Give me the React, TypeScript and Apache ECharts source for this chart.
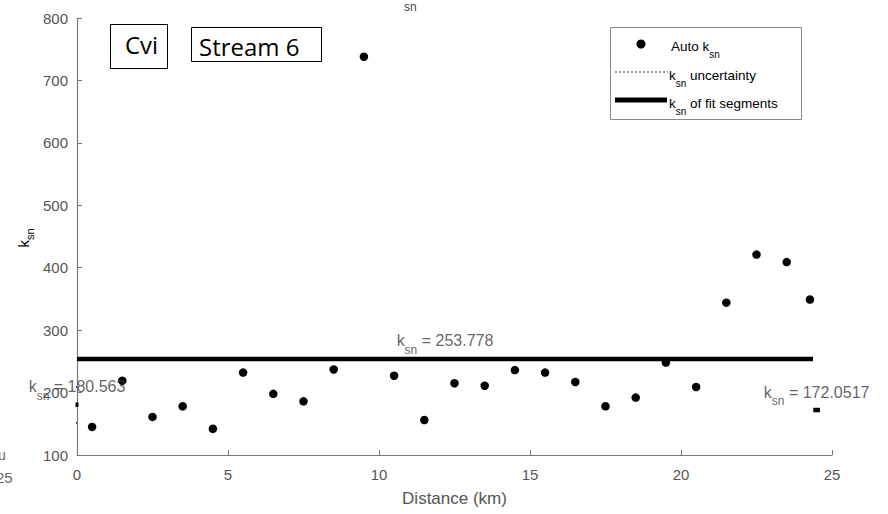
import React, { useEffect, useRef } from "react";
import * as echarts from "echarts";

// Auto k_sn estimates along the stream (distance in km, k_sn value)
const distances = [
  0.5, 1.5, 2.5, 3.5, 4.5, 5.5, 6.5, 7.5, 8.5, 9.5, 10.5, 11.5, 12.5, 13.5,
  14.5, 15.5, 16.5, 17.5, 18.5, 19.5, 20.5, 21.5, 22.5, 23.5, 24.27,
];
const autoKsn = [
  145, 219, 161, 178, 142, 232, 198, 186, 237, 738, 227, 156, 215, 211, 236,
  232, 217, 178, 192, 248, 209, 344, 421, 409, 349,
];

// Fitted segments: start, end and k_sn of each segment
const segStart = [-0.05, 0, 24.38];
const segEnd = [0.05, 24.37, 24.6];
const segKsn = [180.563, 253.778, 172.0517];

// Uncertainty bounds of the first segment
const uncLevels = [151.6, 209.5];

const xTicks = { min: 0, max: 25, interval: 5 };
const yTicks = { min: 100, max: 800, interval: 100 };

const AXIS_GRAY = "#7a7a7a";
const LABEL_GRAY = "#555555";
const SANS = "'Liberation Sans', Arial, sans-serif";

// Rich-text styles for "k" with a lowered "sn" subscript
const subRich = (size: number, subSize: number, lh: number, color: string) => ({
  k: { fontSize: size, lineHeight: lh, fontFamily: SANS, color },
  s: { fontSize: subSize, verticalAlign: "bottom" as const, fontFamily: SANS, color },
  t: { fontSize: size, lineHeight: lh, fontFamily: SANS, color },
});

export default function App() {
  const ref = useRef<HTMLDivElement>(null);

  useEffect(() => {
    if (!ref.current) return;
    const chart = echarts.init(ref.current, undefined, { renderer: "svg" });

    const fitSeries = segKsn.map((k, i) => ({
      type: "line" as const,
      name: "fit" + i,
      data: [
        [segStart[i], k],
        [segEnd[i], k],
      ],
      symbol: "none",
      clip: false,
      lineStyle: { color: "#000", width: 4.5 },
      z: 3,
    }));

    const uncSeries = uncLevels.map((u, i) => ({
      type: "line" as const,
      name: "unc" + i,
      data: [
        [segStart[0], u],
        [segEnd[0], u],
      ],
      symbol: "none",
      clip: false,
      lineStyle: { color: "#222", width: 1.5, type: "dotted" as const },
    }));

    const annotRich = subRich(16, 12, 30, "#3a3a3a");
    const legendRich = subRich(13.5, 10, 26, "#333");

    chart.setOption({
      animation: false,
      backgroundColor: "#ffffff",
      grid: { left: 77, right: 56, top: 18, bottom: 59, containLabel: false, outerBoundsMode: "none" },
      xAxis: {
        type: "value",
        ...xTicks,
        axisLine: { onZero: false, lineStyle: { color: AXIS_GRAY, width: 1.2 } },
        axisTick: { inside: true, length: 5, lineStyle: { color: AXIS_GRAY } },
        axisLabel: { color: LABEL_GRAY, fontSize: 15, margin: 12, fontFamily: SANS },
        splitLine: { show: false },
        name: "Distance (km)",
        nameLocation: "middle",
        nameGap: 35,
        nameTextStyle: { color: LABEL_GRAY, fontSize: 17, fontFamily: SANS },
      },
      yAxis: {
        type: "value",
        ...yTicks,
        axisLine: { show: true, onZero: false, lineStyle: { color: AXIS_GRAY, width: 1.2 } },
        axisTick: { show: true, inside: true, length: 5, lineStyle: { color: AXIS_GRAY } },
        axisLabel: { color: LABEL_GRAY, fontSize: 15, margin: 9, fontFamily: SANS },
        splitLine: { show: false },
      },
      series: [
        ...fitSeries,
        ...uncSeries,
        {
          type: "scatter",
          name: "Auto ksn",
          data: distances.map((d, i) => [d, autoKsn[i]]),
          symbol: "circle",
          symbolSize: 8.5,
          itemStyle: { color: "#000", opacity: 1 },
          z: 4,
        },
        {
          type: "scatter",
          name: "segment labels",
          data: segKsn.map((k, i) => [(segStart[i] + segEnd[i]) / 2, k]),
          symbolSize: 0,
          silent: true,
          clip: false,
          z: 5,
          label: {
            show: true,
            position: "top",
            distance: 3,
            formatter: (p: any) => `{k|k}{s|sn}{t| = ${p.value[1]}}`,
            rich: annotRich,
          },
        },
      ],
      graphic: [
        // Panel tags
        {
          type: "rect",
          shape: { x: 110.5, y: 24.5, width: 57, height: 44 },
          style: { fill: "#fff", stroke: "#000", lineWidth: 1 },
        },
        {
          type: "text",
          x: 125,
          y: 44,
          style: { text: "Cvi", fontSize: 24, fontFamily: "'Open Sans', sans-serif", fill: "#000", verticalAlign: "middle" },
        },
        {
          type: "rect",
          shape: { x: 191.5, y: 27.5, width: 130, height: 34 },
          style: { fill: "#fff", stroke: "#000", lineWidth: 1 },
        },
        {
          type: "text",
          x: 199,
          y: 46,
          style: { text: "Stream 6", fontSize: 24, fontFamily: "'Open Sans', sans-serif", fill: "#000", verticalAlign: "middle" },
        },
        // Legend
        {
          type: "rect",
          shape: { x: 610.5, y: 27.5, width: 191, height: 92 },
          style: { fill: "#fff", stroke: "#8a8a8a", lineWidth: 1 },
        },
        { type: "circle", shape: { cx: 641, cy: 44, r: 4.5 }, style: { fill: "#000" } },
        {
          type: "text",
          x: 671,
          y: 46,
          style: { text: "{t|Auto k}{s|sn}", verticalAlign: "middle", rich: legendRich },
        },
        {
          type: "line",
          shape: { x1: 615, y1: 72, x2: 668, y2: 72 },
          style: { stroke: "#333", lineWidth: 1, lineDash: [2, 2] },
        },
        {
          type: "text",
          x: 669,
          y: 75,
          style: { text: "{k|k}{s|sn}{t| uncertainty}", verticalAlign: "middle", rich: legendRich },
        },
        {
          type: "line",
          shape: { x1: 615, y1: 100, x2: 667, y2: 100 },
          style: { stroke: "#000", lineWidth: 5 },
        },
        {
          type: "text",
          x: 669,
          y: 103,
          style: { text: "{k|k}{s|sn}{t| of fit segments}", verticalAlign: "middle", rich: legendRich },
        },
        // y-axis title
        {
          type: "text",
          x: 23,
          y: 238,
          rotation: Math.PI / 2,
          style: {
            text: "{k|k}{s|sn}",
            align: "center",
            verticalAlign: "middle",
            rich: subRich(15, 11, 24, "#444"),
          },
        },
        // Fragments at the page edges
        {
          type: "text",
          x: 404,
          y: 1,
          style: { text: "sn", fontSize: 12, fontFamily: SANS, fill: "#444", verticalAlign: "top" },
        },
        {
          type: "text",
          x: -2,
          y: 455,
          style: { text: "u", fontSize: 14, fontFamily: SANS, fill: "#666", verticalAlign: "middle" },
        },
        {
          type: "text",
          x: -4,
          y: 477,
          style: { text: "25", fontSize: 15, fontFamily: SANS, fill: "#666", verticalAlign: "middle" },
        },
      ],
    });

    return () => chart.dispose();
  }, []);

  return (
    <div
      ref={ref}
      style={{ position: "absolute", left: 0, top: 0, width: 888, height: 514, background: "#fff" }}
    />
  );
}
